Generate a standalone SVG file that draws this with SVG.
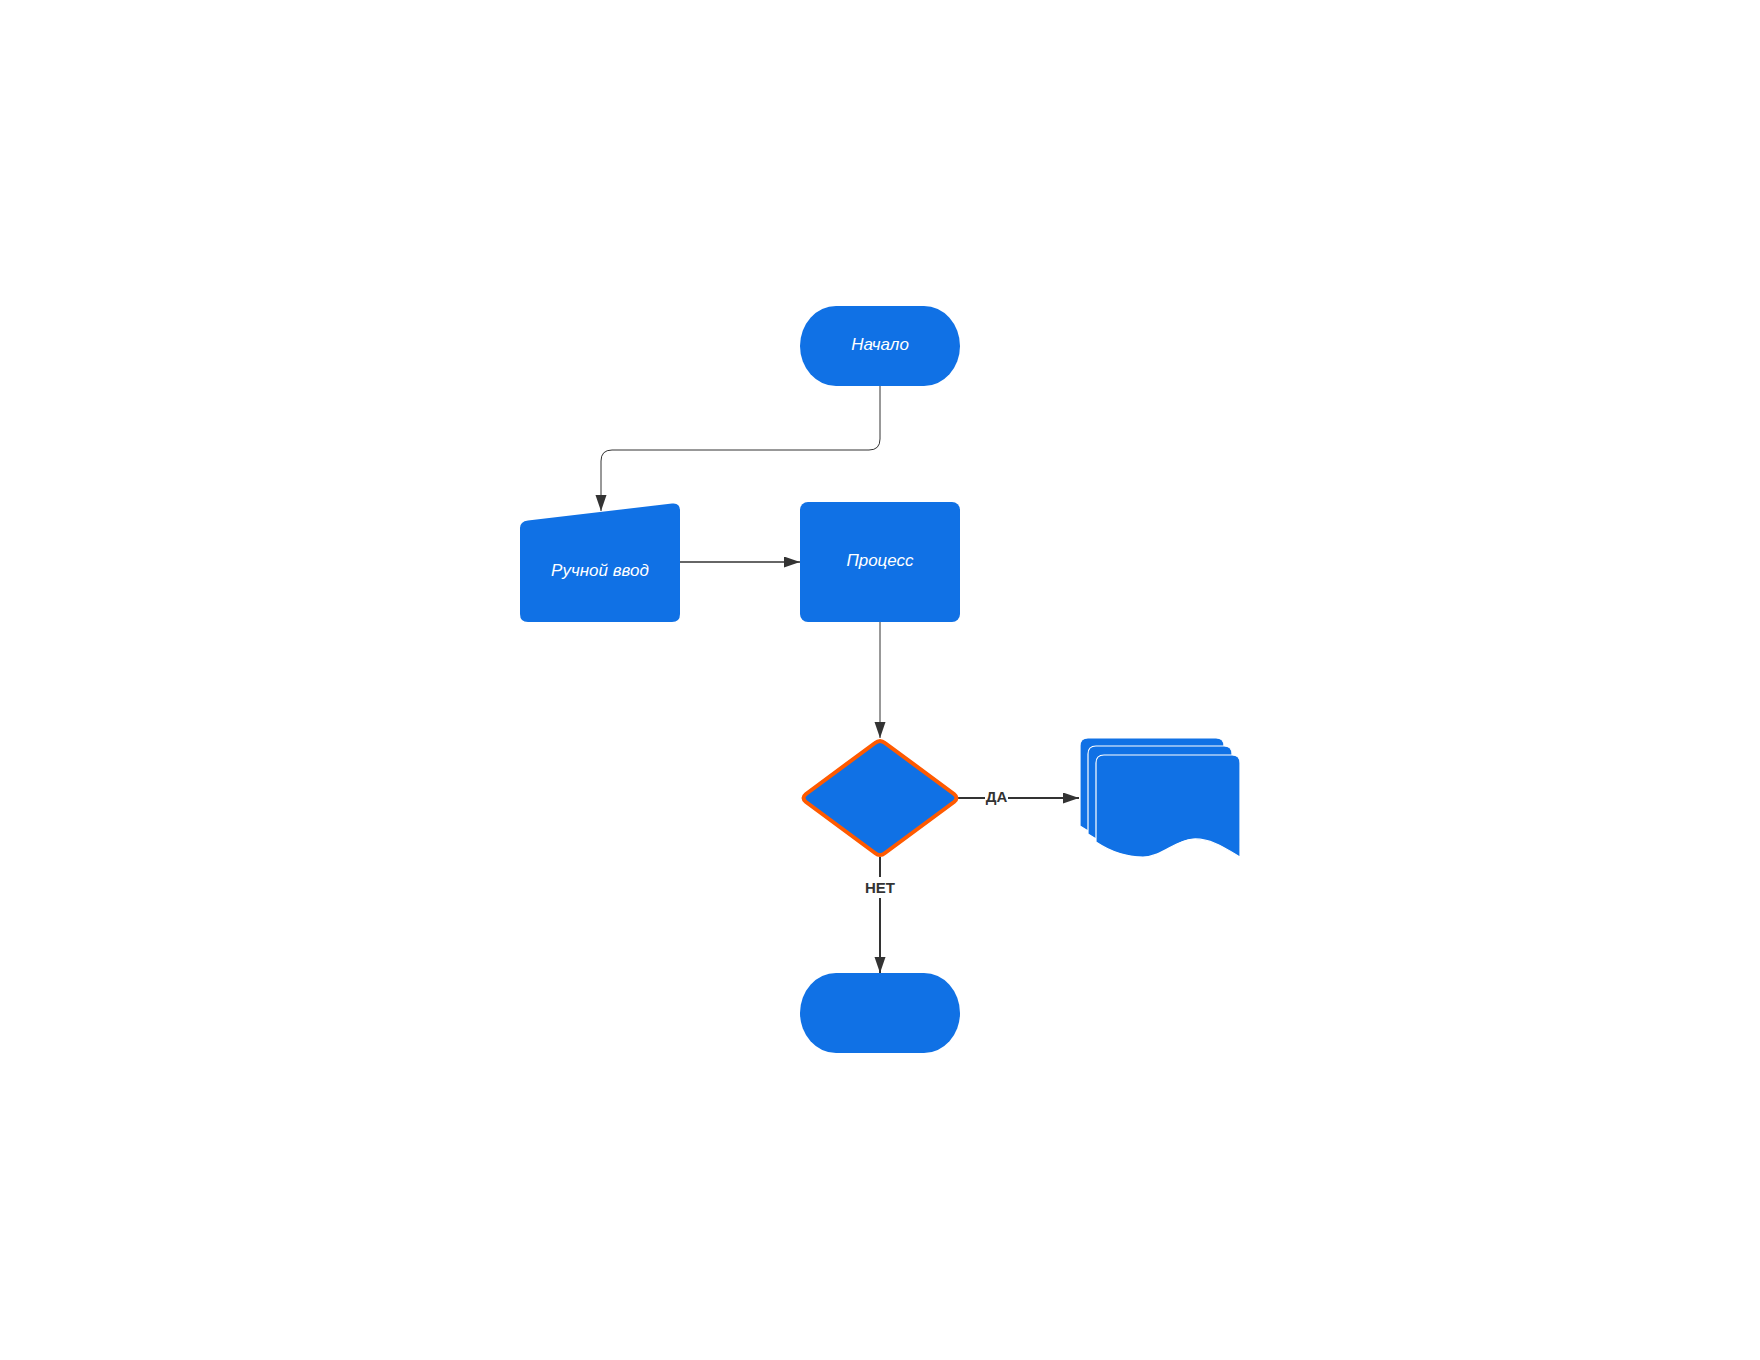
<svg xmlns="http://www.w3.org/2000/svg" width="1760" height="1360" viewBox="0 0 1760 1360">
<style>
.node{fill:#1071E5}
.lbl{font-family:"Liberation Sans",Arial,sans-serif;font-style:italic;font-size:17px;fill:#ffffff;text-anchor:middle}
.elbl{font-family:"Liberation Sans",Arial,sans-serif;font-weight:bold;font-size:15px;fill:#333333;text-anchor:middle}
.c{fill:none;stroke:#333333}
.page{fill:#1071E5;stroke:#ffffff;stroke-width:1.2}
</style>
<defs>
<marker id="ah" markerUnits="userSpaceOnUse" markerWidth="17" markerHeight="12" refX="16" refY="5.5" orient="auto">
<path d="M0,0 L16,5.5 L0,11 Z" fill="#333333"/>
</marker>
</defs>
<rect width="1760" height="1360" fill="#ffffff"/>
<g id="connectors">
<path class="c" stroke-width="1" d="M880,386 L880,439 Q880,450 869,450 L612,450 Q601,450 601,461 L601,511" marker-end="url(#ah)"/>
<path class="c" stroke-width="1.3" d="M680,562 L800,562" marker-end="url(#ah)"/>
<path class="c" stroke-width="1" d="M880,622 L880,738" marker-end="url(#ah)"/>
<path class="c" stroke-width="2" d="M958,798 L1079,798" marker-end="url(#ah)"/>
<path class="c" stroke-width="2" d="M880,857 L880,973" marker-end="url(#ah)"/>
<rect x="985" y="787" width="23" height="16" fill="#ffffff"/>
<text class="elbl" x="996.5" y="802">ДА</text>
<rect x="862" y="877" width="36" height="21" fill="#ffffff"/>
<text class="elbl" x="880" y="893">НЕТ</text>
</g>
<g id="start">
<path class="node" d="M836,306 L924,306 A36,40 0 0 1 924,386 L836,386 A36,40 0 0 1 836,306 Z"/>
<text class="lbl" x="880" y="350">Начало</text>
</g>
<g id="manual-input">
<path class="node" d="M528,520.5 L672,503.5 Q680,502.5 680,510.5 L680,614 Q680,622 672,622 L528,622 Q520,622 520,614 L520,528 Q520,521.5 528,520.5 Z"/>
<text class="lbl" x="600" y="576">Ручной ввод</text>
</g>
<g id="process">
<rect class="node" x="800" y="502" width="160" height="120" rx="8"/>
<text class="lbl" x="880" y="566">Процесс</text>
</g>
<g id="decision">
<path class="node" d="M875,743 Q880,739 885,743 L954,794 Q959,798 954,802 L885,853 Q880,857 875,853 L806,802 Q801,798 806,794 Z" stroke="#FF5A00" stroke-width="4" stroke-linejoin="round"/>
</g>
<g id="documents">
<path class="page" d="M1080,746 Q1080,738 1088,738 L1216,738 Q1224,738 1224,746 L1224,841 C1209,832 1194,822 1177,823 C1159,824 1146,841 1127,841 C1106,841 1089,832 1080,826 Z"/>
<path class="page" d="M1088,754 Q1088,746 1096,746 L1224,746 Q1232,746 1232,754 L1232,849 C1217,840 1202,830 1185,831 C1167,832 1154,849 1135,849 C1114,849 1097,840 1088,834 Z"/>
<path class="page" d="M1096,763 Q1096,755 1104,755 L1232,755 Q1240,755 1240,763 L1240,857 C1225,848 1210,838 1193,839 C1175,840 1162,857 1143,857 C1122,857 1105,848 1096,842 Z"/>
</g>
<g id="end">
<path class="node" d="M836,973 L924,973 A36,40 0 0 1 924,1053 L836,1053 A36,40 0 0 1 836,973 Z"/>
</g>
</svg>
